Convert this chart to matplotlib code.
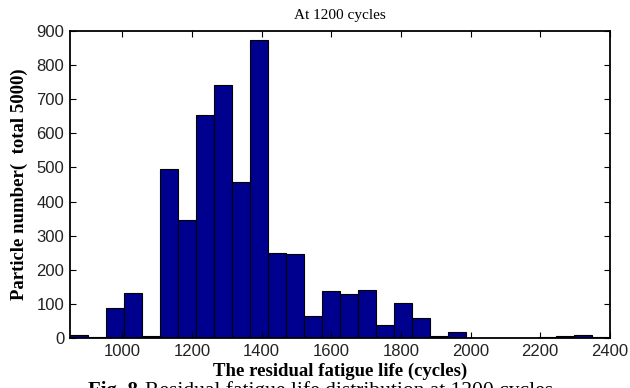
"""
Residual fatigue life histogram for 5000 particles after 1200 cycles.
"""

import numpy as np
import matplotlib
matplotlib.use("Agg")
import matplotlib.pyplot as plt

# histogram range (cycles) and number of bins
life_min = 850
life_max = 2400
n_bins = 30

# particle counts per bin
counts = [9, 3, 88, 133, 7, 496, 347, 655, 742, 456,
          874, 248, 245, 65, 139, 129, 142, 38, 103, 58,
          7, 17, 0, 0, 0, 0, 3, 6, 9, 3]

xticks = [1000, 1200, 1400, 1600, 1800, 2000, 2200, 2400]
yticks = [0, 100, 200, 300, 400, 500, 600, 700, 800, 900]

edges = np.linspace(life_min, life_max, n_bins + 1)
width = edges[1] - edges[0]

fig = plt.figure(figsize=(6.3, 3.88), dpi=100)
ax = fig.add_axes([0.111, 0.129, 0.857, 0.791])

ax.bar(edges[:-1], counts, width=width, align='edge',
       color='#00008F', edgecolor='black', linewidth=0.8)

ax.set_xlim(life_min, life_max)
ax.set_ylim(0, 900)
ax.set_xticks(xticks)
ax.set_yticks(yticks)
ax.tick_params(direction='in', top=True, right=True, length=4, width=0.8,
               labelsize=12, pad=4, labelcolor='#222222')
for lbl in ax.get_xticklabels() + ax.get_yticklabels():
    lbl.set_fontfamily('Liberation Sans')
for sp in ax.spines.values():
    sp.set_linewidth(1.3)

ax.set_title('At 1200 cycles', fontfamily='Liberation Serif', fontsize=11, pad=9)
ax.set_xlabel('The residual fatigue life (cycles)', fontfamily='Liberation Serif',
              fontweight='bold', fontsize=13.5, labelpad=3)
ax.set_ylabel('Particle number(  total 5000)', fontfamily='Liberation Serif',
              fontweight='bold', fontsize=13.5, labelpad=6)

# figure caption, partly below the lower edge
cap_y = 1 - 381 / 388
fig.text(88 / 630, cap_y, 'Fig. 8', ha='left', va='top',
         fontfamily='Liberation Serif', fontweight='bold', fontsize=15)
fig.text(145 / 630, cap_y, 'Residual fatigue life distribution at 1200 cycles',
         ha='left', va='top', fontfamily='Liberation Serif', fontsize=15.5)

fig.savefig('out.png', dpi=100)
